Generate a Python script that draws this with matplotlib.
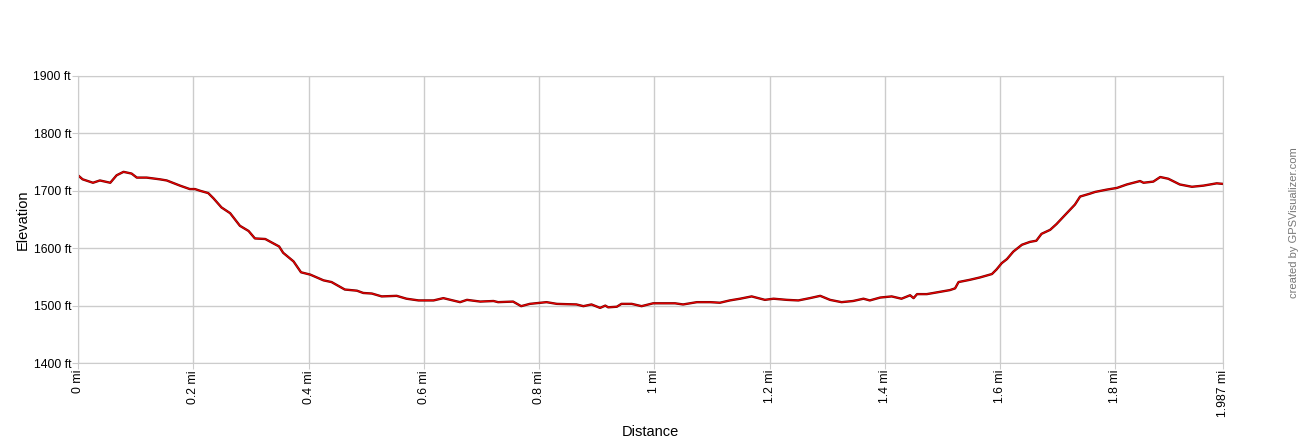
import matplotlib.pyplot as plt
import numpy as np

plt.rcParams['font.family'] = ['Liberation Sans', 'DejaVu Sans']

# elevation profile (miles, feet)
dist = [0.0, 0.008, 0.026, 0.038, 0.056, 0.067, 0.079, 0.093, 0.102, 0.119, 0.142, 0.154,
        0.177, 0.194, 0.203, 0.212, 0.226, 0.235, 0.249, 0.264, 0.281, 0.296, 0.307, 0.325,
        0.336, 0.349, 0.356, 0.374, 0.387, 0.403, 0.426, 0.44, 0.463, 0.484, 0.495, 0.51,
        0.527, 0.553, 0.57, 0.591, 0.617, 0.634, 0.663, 0.675, 0.698, 0.721, 0.729, 0.755,
        0.769, 0.784, 0.813, 0.831, 0.865, 0.877, 0.891, 0.906, 0.915, 0.92, 0.935, 0.943,
        0.961, 0.978, 0.998, 1.036, 1.05, 1.074, 1.097, 1.114, 1.131, 1.149, 1.169, 1.192,
        1.207, 1.23, 1.25, 1.27, 1.288, 1.305, 1.325, 1.345, 1.363, 1.374, 1.392, 1.412,
        1.429, 1.444, 1.45, 1.456, 1.473, 1.496, 1.513, 1.522, 1.528, 1.548, 1.565, 1.586,
        1.594, 1.603, 1.612, 1.623, 1.638, 1.652, 1.663, 1.672, 1.687, 1.698, 1.713, 1.73,
        1.739, 1.756, 1.765, 1.785, 1.803, 1.82, 1.843, 1.849, 1.866, 1.878, 1.892, 1.912,
        1.933, 1.953, 1.976, 1.987]
elev = [1727, 1720, 1714, 1718, 1714, 1727, 1733, 1730, 1723, 1723, 1720, 1718,
        1709, 1703, 1703, 1700, 1696, 1687, 1671, 1661, 1639, 1630, 1617, 1616,
        1610, 1603, 1592, 1577, 1558, 1554, 1544, 1541, 1528, 1526, 1522, 1521,
        1516, 1517, 1512, 1509, 1509, 1513, 1506, 1510, 1507, 1508, 1506, 1507,
        1499, 1503, 1506, 1503, 1502, 1499, 1502, 1496, 1500, 1497, 1498, 1503,
        1503, 1499, 1504, 1504, 1502, 1506, 1506, 1505, 1509, 1512, 1516, 1510,
        1512, 1510, 1509, 1513, 1517, 1510, 1506, 1508, 1512, 1509, 1514, 1516,
        1512, 1518, 1513, 1520, 1520, 1524, 1527, 1530, 1541, 1545, 1549, 1555,
        1563, 1574, 1581, 1594, 1606, 1611, 1613, 1625, 1632, 1642, 1658, 1676,
        1690, 1695, 1698, 1702, 1705, 1711, 1717, 1714, 1716, 1724, 1721, 1711,
        1707, 1709, 1713, 1712]

xticks = [0, 0.2, 0.4, 0.6, 0.8, 1.0, 1.2, 1.4, 1.6, 1.8, 1.987]
xlabels = ['0 mi', '0.2 mi', '0.4 mi', '0.6 mi', '0.8 mi', '1 mi', '1.2 mi',
           '1.4 mi', '1.6 mi', '1.8 mi', '1.987 mi']
yticks = [1400, 1500, 1600, 1700, 1800, 1900]
ylabels = ['1400 ft', '1500 ft', '1600 ft', '1700 ft', '1800 ft', '1900 ft']

fig = plt.figure(figsize=(13, 4.4), dpi=100)
ax = fig.add_axes([0.06, 0.175, 0.8808, 0.6523])

# dark edge under a red core, like the original trace
ax.plot(dist, elev, color='#700000', lw=1.7, solid_joinstyle='round')
ax.plot(dist, elev, color='#ee0000', lw=0.8, solid_joinstyle='round')

ax.set_xlim(0, 1.987)
ax.set_ylim(1400, 1900)
ax.set_xticks(xticks)
ax.set_xticklabels(xlabels, rotation=90, fontsize=8.8)
ax.set_yticks(yticks)
ax.set_yticklabels(ylabels, fontsize=8.8)
ax.tick_params(length=4, color='#cccccc', pad=1)
ax.grid(True, color='#cccccc', lw=1)
for s in ax.spines.values():
    s.set_color('#cccccc')
ax.set_axisbelow(True)

ax.set_xlabel('Distance', fontsize=10.5, labelpad=6)
ax.set_ylabel('Elevation', fontsize=10.5, labelpad=3)

fig.text(0.9955, 0.495, 'created by GPSVisualizer.com', rotation=90, fontsize=8,
         color='#777777', ha='center', va='center')

plt.savefig('out.png', dpi=100)
